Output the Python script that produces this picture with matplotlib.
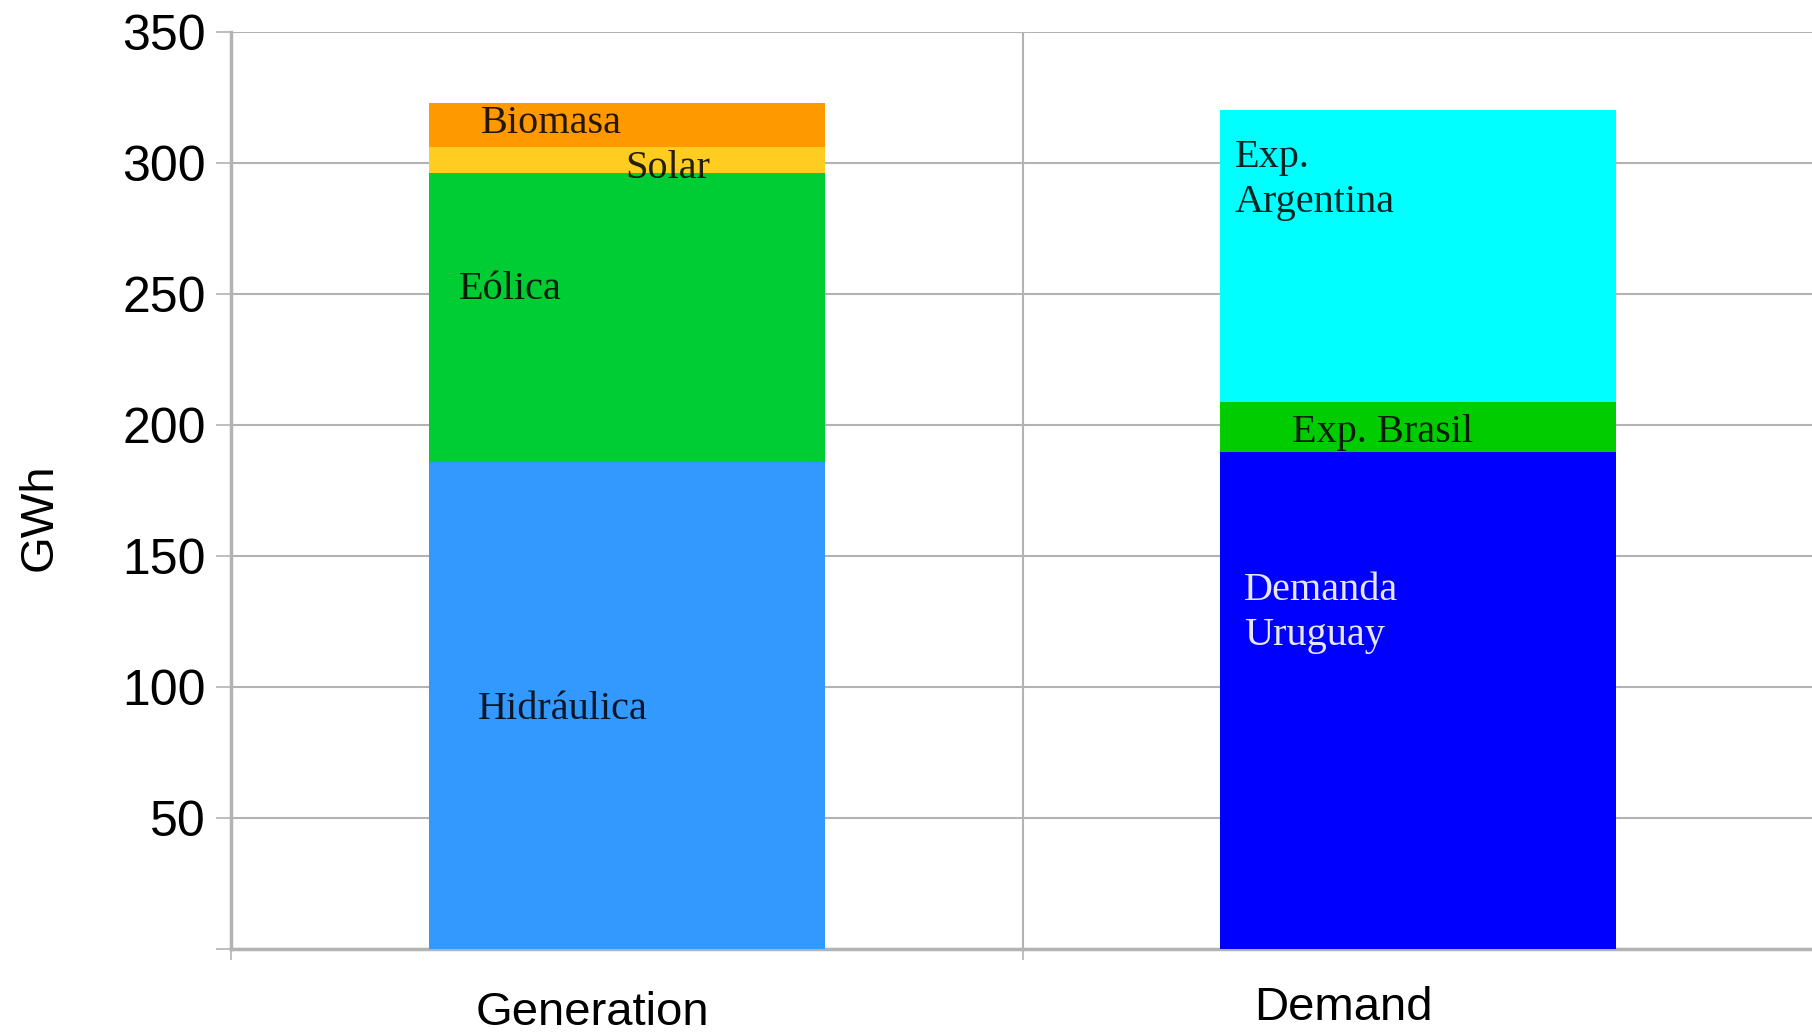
import matplotlib
matplotlib.use("Agg")
import matplotlib.pyplot as plt
import matplotlib.transforms as mtransforms
import numpy as np

# Energy balance (GWh)
categories = ["Generation", "Demand"]

gen_sources = ["Hidráulica", "Eólica", "Solar", "Biomasa"]
gen_values = [186.1, 110.2, 10.1, 16.8]
gen_colors = ["#3399ff", "#00cc33", "#ffcc22", "#ff9900"]

dem_uses = ["Demanda\nUruguay", "Exp. Brasil", "Exp.\nArgentina"]
dem_values = [189.9, 18.9, 111.4]
dem_colors = ["#0000ff", "#00cc00", "#00ffff"]

yticks = [0, 50, 100, 150, 200, 250, 300, 350]
ytick_labels = ["", "50", "100", "150", "200", "250", "300", "350"]

W, H, DPI = 1812, 1033, 100
fig = plt.figure(figsize=(W / DPI, H / DPI), dpi=DPI)
ax = fig.add_axes([231 / W, 1 - 949 / H, (1814 - 231) / W, (949 - 32.4) / H])

grid_col = "#b3b3b3"
bar_w = 0.5

# stacked bars
bottom = 0.0
for v, c in zip(gen_values, gen_colors):
    ax.bar(0, v, bottom=bottom, width=bar_w, color=c, linewidth=0, zorder=3)
    bottom += v
bottom = 0.0
for v, c in zip(dem_values, dem_colors):
    ax.bar(1, v, bottom=bottom, width=bar_w, color=c, linewidth=0, zorder=3)
    bottom += v

# segment labels (x offset from bar centre, y in GWh)
serif = dict(family="Liberation Serif", fontsize=29, va="center", ha="left",
             zorder=5, linespacing=1.27)
gen_label_pos = [(-0.188, 91.4), (-0.212, 251.7), (-0.002, 298.2), (-0.184, 315.2)]
for name, (x, y) in zip(gen_sources, gen_label_pos):
    ax.text(0 + x, y, name, color="black", alpha=0.85, **serif)

dem_label_pos = [(-0.220, 128.3), (-0.160, 197.4), (-0.232, 293.7)]
dem_text_colors = ["#e6e6ff", "black", "black"]
dem_alpha = [1.0, 0.85, 0.85]
for name, (x, y), tc, a in zip(dem_uses, dem_label_pos, dem_text_colors, dem_alpha):
    ax.text(1 + x, y, name, color=tc, alpha=a, **serif)

# axes styling
ax.set_xlim(-0.5, 1.5)
ax.set_ylim(0, 350)
ax.set_yticks(yticks)
ax.set_yticklabels(ytick_labels, family="Liberation Sans", fontsize=36)
ax.tick_params(axis="y", length=11, width=1.2, color=grid_col, pad=7)
ax.yaxis.grid(True, color=grid_col, linewidth=1.5, zorder=0)

ax.set_xticks([0, 1])
ax.set_xticklabels(categories, family="Liberation Sans", fontsize=34)
ax.tick_params(axis="x", which="major", length=0, pad=31)
ax.set_xticks([-0.5, 0.5, 1.5], minor=True)
ax.tick_params(axis="x", which="minor", length=8, width=1.2, color=grid_col)
ax.xaxis.grid(True, which="minor", color=grid_col, linewidth=1.5, zorder=0)

# nudge category labels
shifts = [(-34, 1), (-75, 6)]
for lbl, (dx, dy) in zip(ax.get_xticklabels(), shifts):
    lbl.set_transform(lbl.get_transform() +
                      mtransforms.ScaledTranslation(dx / DPI, dy / DPI, fig.dpi_scale_trans))

for s in ["top", "right"]:
    ax.spines[s].set_visible(False)
ax.spines["left"].set_color(grid_col)
ax.spines["left"].set_linewidth(2.5)
ax.spines["bottom"].set_color(grid_col)
ax.spines["bottom"].set_linewidth(2.5)

fig.text(40 / W, 1 - 517 / H, "GWh", rotation=90, family="Liberation Sans",
         fontsize=34, ha="center", va="center")

fig.savefig("out.png", dpi=DPI)
